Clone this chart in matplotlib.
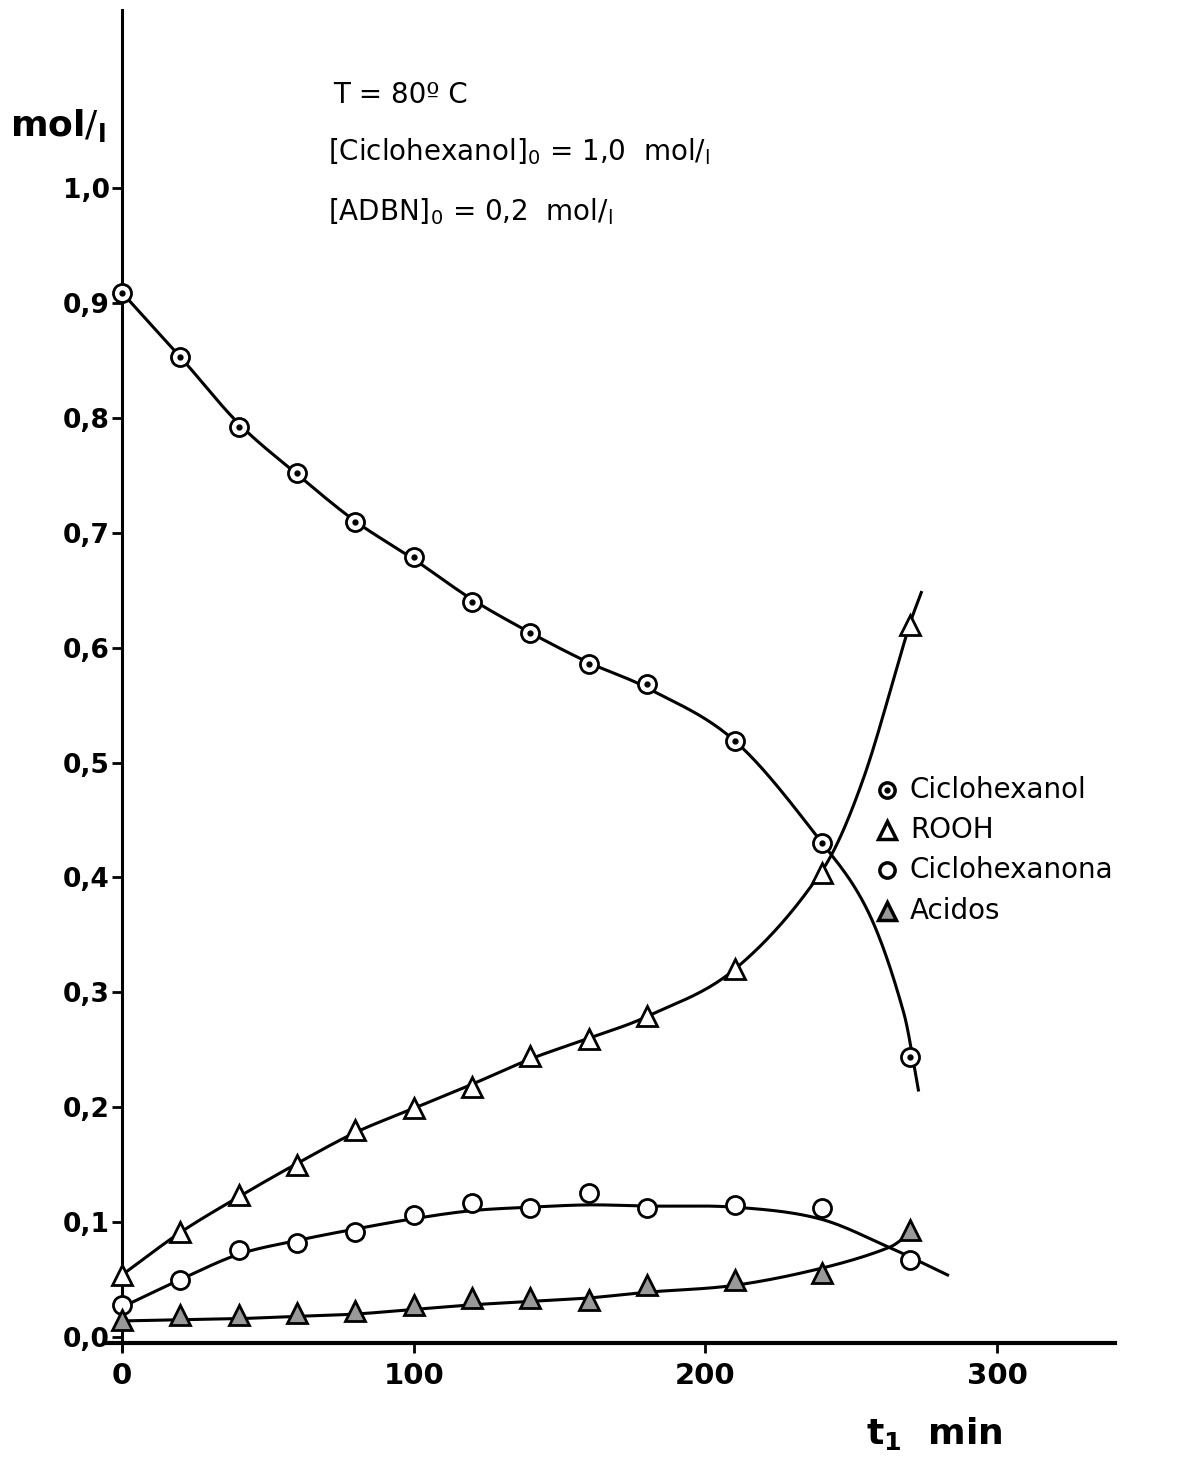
import numpy as np
import matplotlib as mpl
import matplotlib.pyplot as plt

mpl.use('Agg')

# tempo de reacao (min)
t = [0, 20, 40, 60, 80, 100, 120, 140, 160, 180, 210, 240, 270]

# concentracoes (mol/l)
ciclohexanol = [0.909, 0.853, 0.792, 0.752, 0.709, 0.679, 0.640, 0.613, 0.586, 0.568, 0.519, 0.430, 0.244]
rooh = [0.054, 0.091, 0.124, 0.150, 0.180, 0.199, 0.218, 0.245, 0.259, 0.279, 0.320, 0.404, 0.620]
ciclohexanona = [0.028, 0.050, 0.076, 0.082, 0.091, 0.106, 0.117, 0.112, 0.125, 0.112, 0.115, 0.112, 0.067]
acidos = [0.015, 0.019, 0.019, 0.021, 0.023, 0.028, 0.034, 0.034, 0.032, 0.045, 0.050, 0.056, 0.093]

# curvas tracadas a mao (pontos de apoio)
ol_curve_t = [0, 20, 40, 60, 80, 100, 120, 140, 160, 180, 210, 240, 256, 268, 273]
ol_curve_y = [0.909, 0.853, 0.795, 0.751, 0.710, 0.677, 0.642, 0.613, 0.587, 0.565, 0.519, 0.430, 0.369, 0.282, 0.215]
rooh_curve_t = [0, 20, 40, 60, 80, 100, 120, 140, 160, 180, 210, 240, 254, 270, 274]
rooh_curve_y = [0.054, 0.091, 0.122, 0.151, 0.178, 0.199, 0.220, 0.242, 0.260, 0.279, 0.320, 0.406, 0.485, 0.620, 0.648]
ona_curve_t = [0, 20, 40, 60, 80, 100, 120, 140, 160, 180, 210, 239, 263, 283]
ona_curve_y = [0.026, 0.050, 0.072, 0.084, 0.094, 0.103, 0.110, 0.113, 0.115, 0.114, 0.113, 0.103, 0.078, 0.054]
acid_curve_t = [0, 20, 40, 60, 80, 100, 120, 140, 160, 180, 210, 240, 263, 270]
acid_curve_y = [0.014, 0.015, 0.016, 0.018, 0.020, 0.024, 0.028, 0.031, 0.034, 0.039, 0.045, 0.060, 0.078, 0.090]

x_ticks = [0, 100, 200, 300]
x_labels = ['0', '100', '200', '300']
y_ticks = [0.0, 0.1, 0.2, 0.3, 0.4, 0.5, 0.6, 0.7, 0.8, 0.9, 1.0]
y_labels = ['0,0', '0,1', '0,2', '0,3', '0,4', '0,5', '0,6', '0,7', '0,8', '0,9', '1,0']

legend_names = ['Ciclohexanol', 'ROOH', 'Ciclohexanona', 'Acidos']

W, H = 1190, 1457


def spline(xs, ys, n=25):
    # hermite cubica com inclinacoes centrais, so para tracar a curva suave
    x = np.asarray(xs, float)
    y = np.asarray(ys, float)
    h = np.diff(x)
    delta = np.diff(y) / h
    m = np.empty_like(y)
    m[1:-1] = (y[2:] - y[:-2]) / (x[2:] - x[:-2])
    m[0] = delta[0]
    m[-1] = delta[-1]
    u = np.linspace(0, 1, n)
    h00 = 2 * u**3 - 3 * u**2 + 1
    h10 = u**3 - 2 * u**2 + u
    h01 = -2 * u**3 + 3 * u**2
    h11 = u**3 - u**2
    xo, yo = [], []
    for i in range(len(h)):
        xo.append(x[i] + u * h[i])
        yo.append(h00 * y[i] + h10 * h[i] * m[i] + h01 * y[i + 1] + h11 * h[i] * m[i + 1])
    return np.concatenate(xo), np.concatenate(yo)


fig = plt.figure(figsize=(W / 100, H / 100), dpi=100)
ax = fig.add_axes([105 / W, 1 - 1350 / H, 1010 / W, 1340 / H])
ax.set_xlim(-5.83, 340.4)
ax.set_ylim(-0.0113, 1.155)

ax.spines['top'].set_visible(False)
ax.spines['right'].set_visible(False)
ax.spines['left'].set_position(('data', 0))
ax.spines['bottom'].set_position(('data', -0.005))
ax.spines['left'].set_linewidth(2.2)
ax.spines['bottom'].set_linewidth(3)

ax.set_xticks(x_ticks)
ax.set_xticklabels(x_labels, fontsize=21, fontweight='bold')
ax.set_yticks(y_ticks)
ax.set_yticklabels(y_labels, fontsize=19, fontweight='bold')
ax.tick_params(axis='x', direction='out', length=7, width=2, pad=7)
ax.tick_params(axis='y', direction='out', length=7, width=2, pad=2)

lw = 2.2
for ct, cy in [(ol_curve_t, ol_curve_y), (rooh_curve_t, rooh_curve_y),
               (ona_curve_t, ona_curve_y), (acid_curve_t, acid_curve_y)]:
    xs, ys = spline(ct, cy)
    ax.plot(xs, ys, color='black', lw=lw, zorder=2, clip_on=False)

ax.plot(t, ciclohexanol, 'o', ms=13, mfc='white', mec='black', mew=2, zorder=3, clip_on=False)
ax.plot(t, ciclohexanol, 'o', ms=3.5, color='black', zorder=4, clip_on=False)
ax.plot(t, rooh, '^', ms=15, mfc='white', mec='black', mew=2, zorder=3, clip_on=False)
ax.plot(t, ciclohexanona, 'o', ms=13, mfc='white', mec='black', mew=2, zorder=3, clip_on=False)
ax.plot(t, acidos, '^', ms=15, mfc='0.6', mec='black', mew=2, zorder=3, clip_on=False)


def fx(px):
    return px / W


def fy(py):
    return 1 - py / H


# legenda manual
rows = [790, 830, 870, 911]
mk_x = 887
fig.lines.append(plt.Line2D([fx(mk_x)], [fy(rows[0])], marker='o', ms=11, mfc='white', mec='black',
                            mew=2.5, transform=fig.transFigure, figure=fig))
fig.lines.append(plt.Line2D([fx(mk_x)], [fy(rows[0])], marker='o', ms=3.5, color='black',
                            transform=fig.transFigure, figure=fig))
fig.lines.append(plt.Line2D([fx(mk_x)], [fy(rows[1])], marker='^', ms=13, mfc='white', mec='black',
                            mew=2.5, transform=fig.transFigure, figure=fig))
fig.lines.append(plt.Line2D([fx(mk_x)], [fy(rows[2])], marker='o', ms=11, mfc='white', mec='black',
                            mew=2.5, transform=fig.transFigure, figure=fig))
fig.lines.append(plt.Line2D([fx(mk_x)], [fy(rows[3])], marker='^', ms=13, mfc='0.6', mec='black',
                            mew=2.5, transform=fig.transFigure, figure=fig))
for name, r in zip(legend_names, rows):
    fig.text(fx(910), fy(r), name, fontsize=20, va='center', ha='left')

# condicoes
fig.text(fx(333), fy(95), 'T = 80º C', fontsize=20, va='center')
fig.text(fx(328), fy(152), r'[Ciclohexanol]$_\mathregular{0}$ = 1,0  mol$/_\mathregular{l}$', fontsize=20, va='center')
fig.text(fx(328), fy(212), r'[ADBN]$_\mathregular{0}$ = 0,2  mol$/_\mathregular{l}$', fontsize=20, va='center')

# rotulos dos eixos
fig.text(fx(10), fy(125), r'mol$/_\mathregular{l}$', fontsize=26, fontweight='bold', va='center')
fig.text(fx(866), fy(1433), r't$_\mathregular{1}$  min', fontsize=26, fontweight='bold', va='center')

fig.savefig('out.png', dpi=100, facecolor='white')
